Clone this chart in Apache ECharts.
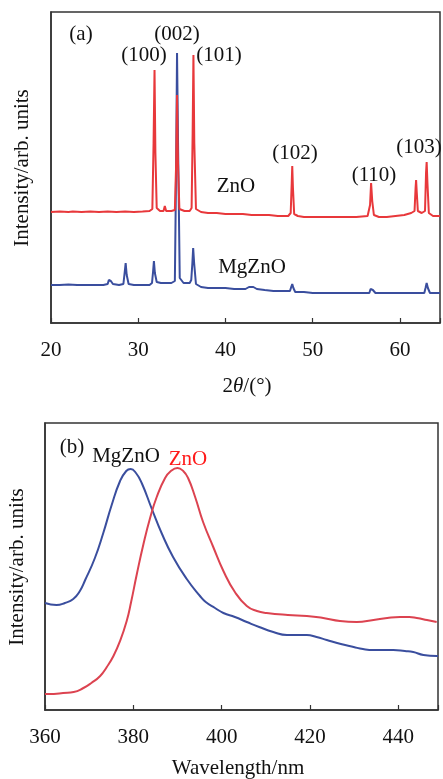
<!DOCTYPE html>
<html>
<head>
<meta charset="utf-8">
<script src="https://cdn.jsdelivr.net/npm/echarts@6/dist/echarts.min.js"></script>
<style>
html,body{margin:0;padding:0;background:#fff;}
#chart{width:443px;height:779px;}
</style>
</head>
<body>
<div id="chart"></div>
<script>
// ---- (a) XRD patterns: [2theta (deg), intensity (arb.)]
const xrdZnO = [
  [20.0,111],[21.0,111.5],[22.0,111],[22.5,111.5],[23.5,111],[24.5,111.5],[25.5,111],[26.5,111.5],
  [27.5,111],[28.5,111.5],[29.5,111],[30.5,111.5],[31.3,112],[31.62,114],[31.76,180],[31.87,253],
  [31.97,170],[32.12,115],[32.5,112],[32.9,112],[33.05,117],[33.2,112],[33.8,112],[34.2,113],
  [34.35,160],[34.45,228],[34.56,160],[34.72,114],[35.3,112],[35.9,112],[36.12,115],[36.24,190],
  [36.33,268],[36.43,180],[36.62,114],[37.2,111],[38,110],[39,110],[40,109],[41,109],[42,109],
  [43,108],[44,108],[45,108],[46,107],[47.2,107],[47.48,110],[47.6,140],[47.66,157],[47.74,135],
  [47.88,109],[48.3,107],[49,106],[50,106],[51,106],[52,106],[53,106],[54,106],[55,106],
  [56.3,107],[56.58,118],[56.7,140],[56.83,122],[57.02,108],[57.6,106],[58.5,106],[59.5,107],
  [60.5,108],[61.3,110],[61.68,112],[61.8,135],[61.86,143],[61.94,130],[62.06,112],[62.5,110],
  [62.88,112],[63.0,150],[63.07,161],[63.16,140],[63.32,110],[63.8,107],[64.6,107]
];
const xrdMgZnO = [
  [20,38],[21,38],[22,38.5],[23,38],[24,38],[25,38],[26,38],[26.5,39],[26.63,43],[26.74,45],
  [26.86,42],[27.1,39],[27.8,38],[28.3,39],[28.44,50],[28.56,60],[28.68,48],[28.9,39],[29.5,38],
  [30.5,38],[31.3,38],[31.58,40],[31.71,52],[31.8,62],[31.91,50],[32.12,41],[32.6,40],[33.2,40],
  [33.8,40],[34.2,42],[34.34,150],[34.45,270],[34.58,170],[34.76,45],[35.2,40],[35.9,40],
  [36.08,43],[36.21,60],[36.3,75],[36.41,60],[36.62,39],[37.2,36],[38,35],[39,35],[40,35],[41,34],
  [42.3,34],[42.7,36],[42.9,37],[43.2,36],[43.6,34],[44.5,33],[45.5,32],[46.5,32],[47.4,32],
  [47.54,36],[47.66,39],[47.79,35],[48,31],[49,31],[50,30],[51,30],[52,30],[53,30],[54,30],
  [55,30],[56.5,30],[56.64,34],[56.76,36],[56.9,33],[57.2,30],[58,30],[59,30],[60,30],[61,30],
  [62,30],[62.8,30],[62.94,35],[63.07,40],[63.21,35],[63.45,30],[64,30],[64.6,30]
];
const xrdTicks = [20, 30, 40, 50, 60];

// ---- (b) PL spectra: [wavelength (nm), intensity (arb.)]
const plMgZnO = [
  [360,107],[362.6,105],[364.5,107],[366.4,111],[367.9,119],[369.1,130],[371.3,152],[373.2,177],
  [375.1,205],[377.0,229],[378.4,239],[379.4,241],[380.6,237],[381.9,227],[384.2,201],[386.4,177],
  [389.0,153],[392.1,131],[395.1,114],[396.4,108],[398.5,102],[400.4,97],[403,93],[405.7,88],
  [408.5,83],[411.7,78],[414.8,75],[419.3,75],[421.5,73],[423.8,70],[427,66],[429.9,63],[432,61],
  [434.4,60],[438.9,60],[441.5,59],[443.4,58],[445.7,55],[448.7,54],[449,54]
];
const plZnO = [
  [360,16],[362,16],[364.1,17],[366.5,18],[368.7,22],[370.5,27],[372.5,34],[374,43],[375.5,54],
  [377,69],[378.5,89],[379.5,108],[380.8,136],[382.3,166],[383.8,192],[385.3,213],[387.2,232],
  [388.5,239],[390,242],[391.3,239],[392.4,232],[394,213],[395.8,188],[398.1,163],[400.4,139],
  [403,118],[405.7,104],[408,99],[410.2,97],[415,95],[419.3,94],[423,92],[426.8,89],[430.6,88],
  [434.4,90],[437.5,92],[440.4,93],[442.5,93],[444.2,92],[446.5,90],[448.7,88]
];
const plTicks = [360, 380, 400, 420, 440];

const FONT = 'Liberation Serif';
const RED = '#e8383b';
const RED_PL = '#dc4350';
const BLUE = '#3a4e9e';
const AX = '#333333';

const chart = echarts.init(document.getElementById('chart'), null, {renderer: 'canvas'});

function xAxisCfg(gi, min, max, interval, ticks) {
  return {
    type: 'value', gridIndex: gi, min: min, max: max, interval: interval,
    axisLine: {show: true, lineStyle: {color: AX, width: 1.5}},
    axisTick: {show: true, inside: true, length: 5, lineStyle: {color: AX, width: 1.2}},
    splitLine: {show: false},
    axisLabel: {
      margin: 17, color: '#111', fontFamily: FONT, fontSize: 21,
      formatter: v => (ticks.indexOf(v) >= 0 ? String(v) : '')
    }
  };
}
function yAxisCfg(gi, max) {
  return {
    type: 'value', gridIndex: gi, min: 0, max: max,
    axisLine: {show: true, lineStyle: {color: AX, width: 1.5}},
    axisTick: {show: false}, axisLabel: {show: false}, splitLine: {show: false}
  };
}
const txt = (x, y, s, extra) => ({
  type: 'text', x: x, y: y,
  style: Object.assign({text: s, fill: '#111', font: '21px "' + FONT + '"', align: 'center', verticalAlign: 'middle'}, extra || {})
});

chart.setOption({
  animation: false,
  backgroundColor: '#fff',
  grid: [
    {left: 51, top: 12, width: 391, height: 311, show: true, borderColor: AX, borderWidth: 1.5, backgroundColor: 'transparent'},
    {left: 45, top: 423, width: 393, height: 287, show: true, borderColor: AX, borderWidth: 1.5, backgroundColor: 'transparent'}
  ],
  xAxis: [
    xAxisCfg(0, 20, 64.6, 10, xrdTicks),
    xAxisCfg(1, 360, 449, 20, plTicks)
  ],
  yAxis: [yAxisCfg(0, 311), yAxisCfg(1, 287)],
  series: [
    {type: 'line', xAxisIndex: 0, yAxisIndex: 0, data: xrdMgZnO, showSymbol: false,
     lineStyle: {color: BLUE, width: 2}, z: 2},
    {type: 'line', xAxisIndex: 0, yAxisIndex: 0, data: xrdZnO, showSymbol: false,
     lineStyle: {color: RED, width: 2}, z: 3},
    {type: 'line', xAxisIndex: 1, yAxisIndex: 1, data: plMgZnO, showSymbol: false,
     smooth: 0.5,
     lineStyle: {color: BLUE, width: 2}, z: 2},
    {type: 'line', xAxisIndex: 1, yAxisIndex: 1, data: plZnO, showSymbol: false,
     smooth: 0.5,
     lineStyle: {color: RED_PL, width: 2}, z: 3}
  ],
  graphic: [
    txt(81, 34, '(a)'),
    txt(144, 55, '(100)'),
    txt(177, 34, '(002)'),
    txt(219, 55, '(101)'),
    txt(295, 153, '(102)'),
    txt(374, 175, '(110)'),
    txt(419, 147, '(103)'),
    txt(236, 186, 'ZnO'),
    txt(252, 267, 'MgZnO'),
    {type: 'text', x: 22, y: 168, rotation: Math.PI / 2,
     style: {text: 'Intensity/arb. units', fill: '#111', font: '21px "' + FONT + '"', align: 'center', verticalAlign: 'middle'}},
    {type: 'text', x: 247, y: 386,
     style: {
       text: '2{i|θ}/(°)', fill: '#111', font: '21px "' + FONT + '"', align: 'center', verticalAlign: 'middle',
       rich: {i: {fontFamily: FONT, fontSize: 21, fontStyle: 'italic', fill: '#111'}}
     }},
    txt(72, 447, '(b)'),
    txt(126, 456, 'MgZnO'),
    txt(188, 459, 'ZnO', {fill: '#ff1a1a'}),
    {type: 'text', x: 17, y: 567, rotation: Math.PI / 2,
     style: {text: 'Intensity/arb. units', fill: '#111', font: '21px "' + FONT + '"', align: 'center', verticalAlign: 'middle'}},
    txt(238, 768, 'Wavelength/nm')
  ]
});
</script>
</body>
</html>
